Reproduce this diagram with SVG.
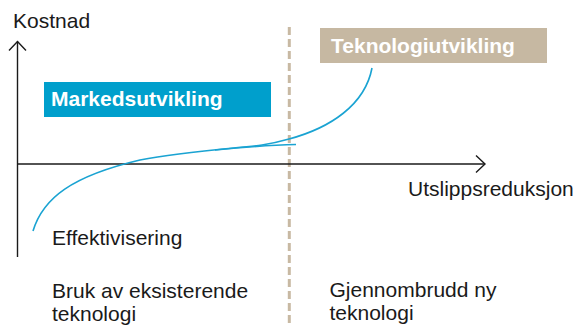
<svg xmlns="http://www.w3.org/2000/svg" width="584" height="327" viewBox="0 0 584 327">
<style>
.t{font-family:"Liberation Sans",Arial,sans-serif;font-size:21px;fill:#1a1a1a}
.b{font-family:"Liberation Sans",Arial,sans-serif;font-size:21px;font-weight:bold;fill:#ffffff}
.ax{stroke:#1a1a1a;stroke-width:1.4;fill:none}
.cv{stroke:#1aa3d2;stroke-width:1.6;fill:none}
</style>
<rect width="584" height="327" fill="#ffffff"/>
<g id="divider">
<line x1="289.3" y1="27" x2="289.3" y2="327" stroke="#c8b9a3" stroke-width="3" stroke-dasharray="8 4"/>
</g>
<g id="connectors">
<line class="ax" x1="17.5" y1="257" x2="17.5" y2="41.5"/>
<polyline class="ax" points="9,50.5 17.5,41.5 26,50.5"/>
<line class="ax" x1="17.5" y1="164" x2="485" y2="164"/>
<polyline class="ax" points="476,155.5 485,164 476,172.5"/>
<path class="cv" d="M33,231 C43,198 72,176 140,160 C185,151 240,148 262,145 C275,143 282,141 289,139 C330,128 365,105 372,68"/>
<path class="cv" d="M215,150 C245,147 272,145 296,144.5"/>
</g>
<g id="kostnad"><text class="t" x="13" y="27.5">Kostnad</text></g>
<g id="utslipp"><text class="t" x="408" y="196">Utslippsreduksjon</text></g>
<g id="markedsutvikling">
<rect x="44" y="82" width="227" height="35" fill="#009fcc"/>
<text class="b" x="51" y="105.5">Markedsutvikling</text>
</g>
<g id="teknologiutvikling">
<rect x="320" y="28" width="227" height="35" fill="#c6b8a2"/>
<text class="b" x="331" y="52.5">Teknologiutvikling</text>
</g>
<g id="effektivisering"><text class="t" x="52" y="244.5">Effektivisering</text></g>
<g id="bruk"><text class="t" x="52" y="297.5">Bruk av eksisterende</text><text class="t" x="52" y="321">teknologi</text></g>
<g id="gjennombrudd"><text class="t" x="329.5" y="296.5">Gjennombrudd ny</text><text class="t" x="329.5" y="320">teknologi</text></g>
</svg>
